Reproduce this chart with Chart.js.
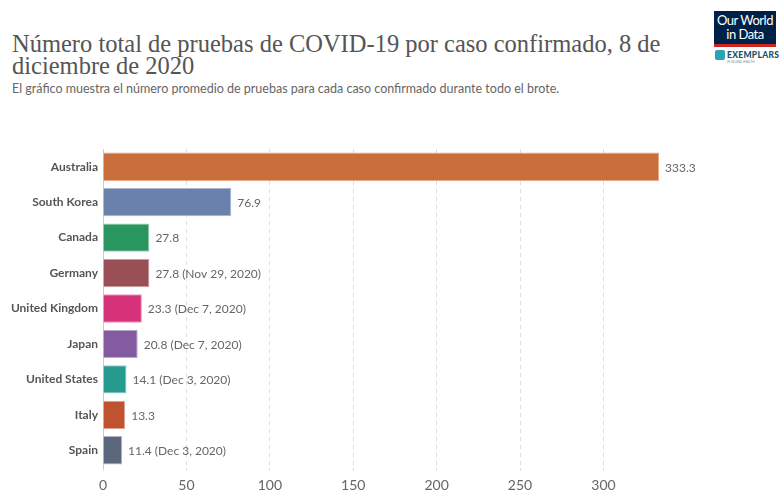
<!DOCTYPE html>
<html>
<head>
<meta charset="utf-8">
<script src="https://cdn.jsdelivr.net/npm/chart.js@4.4.0/dist/chart.umd.min.js"></script>
<style>
  body { margin: 0; background: #fff; }
  #wrap { position: relative; width: 784px; height: 502px; overflow: hidden; }
  #titulo { position: absolute; left: 12px; top: 33px; width: 690px; font-family: "Liberation Serif", serif;
    font-size: 24.5px; line-height: 22px; color: #555; }
  #subtitulo { position: absolute; left: 12px; top: 81px; font-family: Lato, sans-serif; font-size: 12.5px; color: #666; }
  #logo { position: absolute; left: 714px; top: 11px; width: 62px; }
  #logo .caja { background: #002147; color: #fff; font-family: Lato, sans-serif; font-size: 13px; line-height: 14px;
    text-align: center; padding: 2px 0 3px 0; letter-spacing: -0.5px; }
  #logo .rojo { height: 3px; background: #ce261e; }
  #logo .ex { font-family: Lato, sans-serif; font-weight: 900; font-size: 8.5px; color: #1d4f66; margin-top: 3px; padding-left: 13px; position: relative; letter-spacing: 0.3px; }
  #logo .ex:before { content: ""; position: absolute; left: 1px; top: 0px; width: 10px; height: 10px; background: #2aa3b5; border-radius: 2px; }
  #logo .sub { font-family: Lato, sans-serif; font-size: 3px; color: #888; padding-left: 13px; }
  canvas { position: absolute; left: 0; top: 0; }
</style>
</head>
<body>
<div id="wrap">
  <div id="titulo">Número total de pruebas de COVID-19 por caso confirmado, 8 de diciembre de 2020</div>
  <div id="subtitulo">El gráfico muestra el número promedio de pruebas para cada caso confirmado durante todo el brote.</div>
  <div id="logo">
    <div class="caja">Our World<br>in Data</div>
    <div class="rojo"></div>
    <div class="ex">EXEMPLARS</div>
    <div class="sub">IN GLOBAL HEALTH</div>
  </div>
  <canvas id="grafico" width="784" height="502"></canvas>
</div>
<script>
let paises = ["Australia", "South Korea", "Canada", "Germany", "United Kingdom", "Japan", "United States", "Italy", "Spain"];
let valores = [333.3, 76.9, 27.8, 27.8, 23.3, 20.8, 14.1, 13.3, 11.4];
let fechas = ["", "", "", "Nov 29, 2020", "Dec 7, 2020", "Dec 7, 2020", "Dec 3, 2020", "", "Dec 3, 2020"];
let colores = ["#c96f3b", "#6a81ab", "#29955f", "#9a4f56", "#d7337a", "#845aa0", "#279a90", "#bf5330", "#5a677c"];
let bordes = ["#e6a98a", "#a9b6cf", "#9fd0b6", "#c99ca0", "#ec99bd", "#c0a9d1", "#99cfca", "#e0a48f", "#adb4c0"];
let ticksX = [0, 50, 100, 150, 200, 250, 300];

// escreve o valor ao lado de cada barra
let rotulos = {
  id: "rotulos",
  afterDatasetsDraw(chart) {
    let ctx = chart.ctx;
    let barras = chart.getDatasetMeta(0).data;
    ctx.save();
    ctx.font = "12px Lato";
    ctx.fillStyle = "#666";
    ctx.textBaseline = "middle";
    for (let i = 0; i < barras.length; i++) {
      let texto = valores[i].toFixed(1);
      if (fechas[i] != "") {
        texto += " (" + fechas[i] + ")";
      }
      ctx.fillText(texto, barras[i].x + 6, barras[i].y + 1);
    }
    ctx.restore();
  }
};

new Chart(document.getElementById("grafico"), {
  type: "bar",
  data: {
    labels: paises,
    datasets: [{
      data: valores,
      backgroundColor: colores,
      borderColor: bordes,
      borderWidth: 1,
      borderSkipped: "left",
      barPercentage: 0.8,
      categoryPercentage: 1
    }]
  },
  options: {
    indexAxis: "y",
    responsive: false,
    animation: false,
    layout: { padding: { top: 149, right: 125, left: 0, bottom: 0 } },
    scales: {
      x: {
        min: 0,
        max: 333.3,
        afterFit(scale) { scale.height = 34; },
        afterBuildTicks(scale) { scale.ticks = ticksX.map(v => ({ value: v })); },
        grid: { color: "#ddd", tickLength: 3, drawTicks: true, tickColor: "#ddd" },
        border: { display: false, dash: [4, 4] },
        ticks: { color: "#666", font: { family: "Lato", size: 14 }, padding: 6 }
      },
      y: {
        afterFit(scale) { scale.width = 103; },
        grid: { display: false, drawTicks: false },
        border: { display: true, color: "#ccc" },
        ticks: { color: "#555", font: { family: "Lato", size: 12, weight: "bold" }, padding: 5 }
      }
    },
    plugins: {
      legend: { display: false },
      tooltip: { enabled: false }
    }
  },
  plugins: [rotulos]
});
</script>
</body>
</html>
